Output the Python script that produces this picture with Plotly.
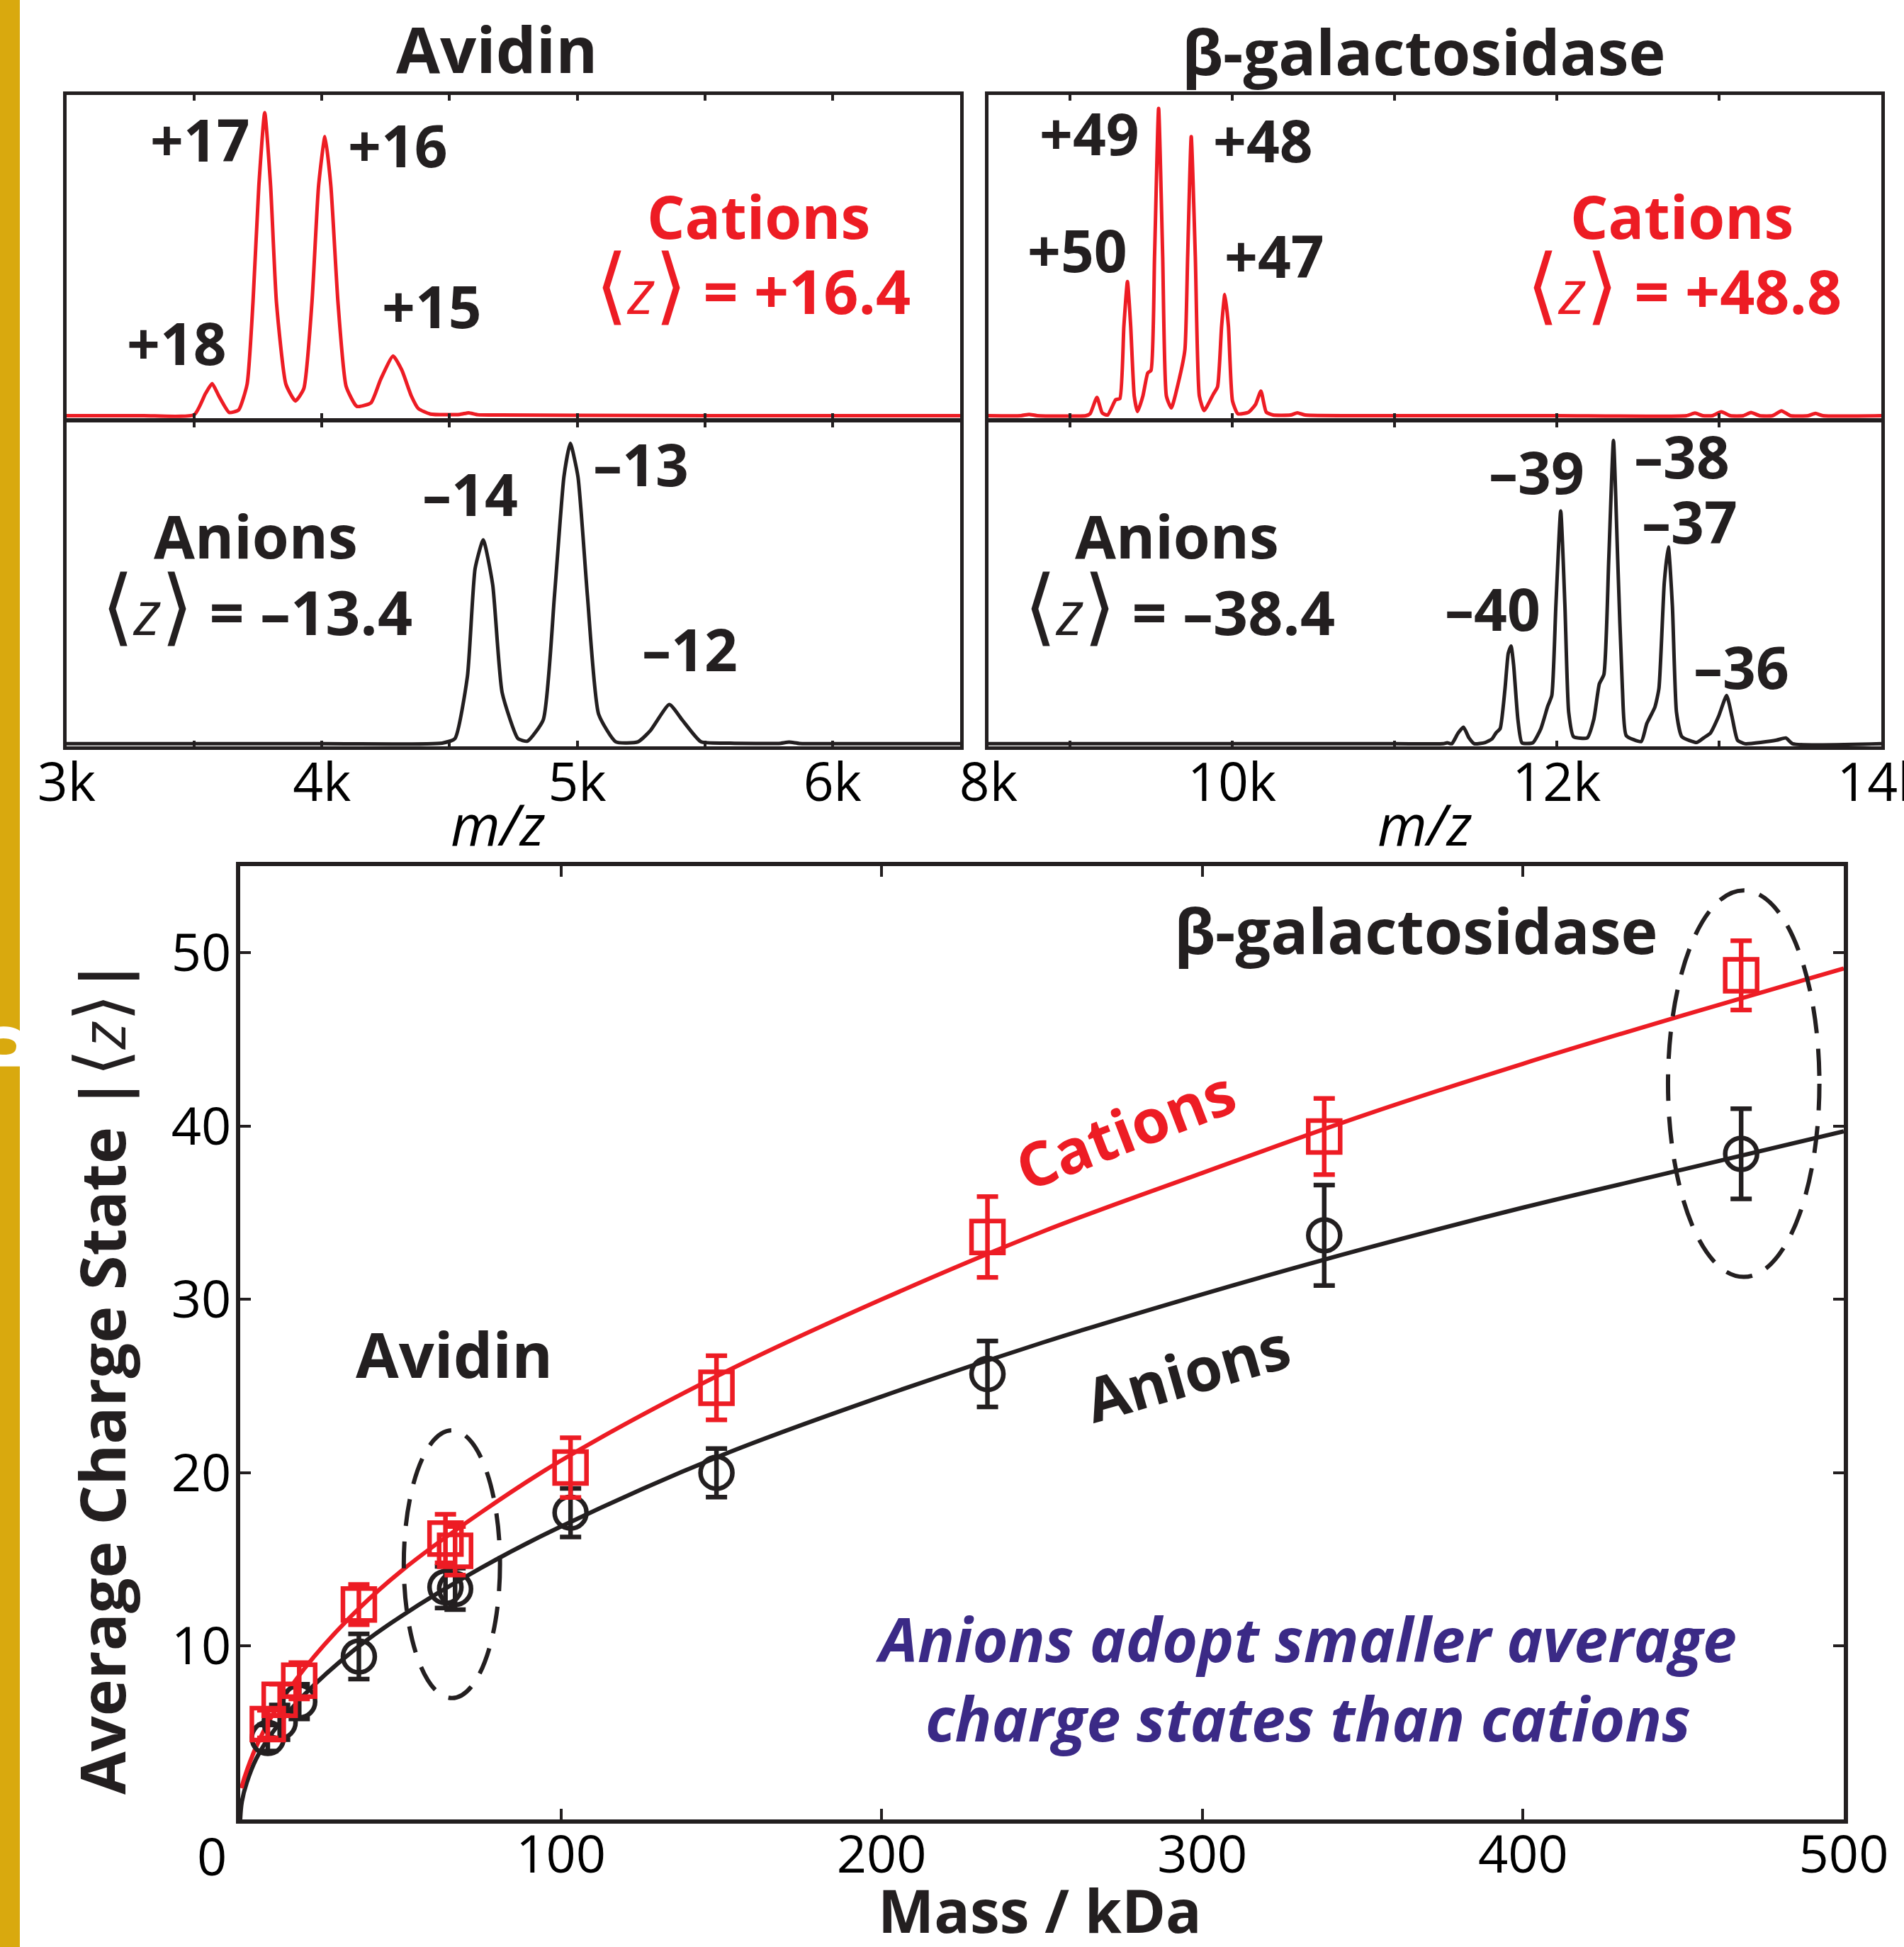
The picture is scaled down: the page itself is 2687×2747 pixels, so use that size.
import plotly.graph_objects as go

# ---------------- data ----------------
# Avidin spectra (m/z, relative intensity in % of panel height)
av_cat_mz = [3000, 3300, 3500, 3544, 3570, 3596, 3637, 3674, 3707, 3730, 3753, 3776, 3799, 3822, 3859,
             3896, 3929, 3961, 3987, 4012, 4035, 4063, 4095, 4137, 4192, 4230, 4279, 4313, 4350, 4378,
             4425, 4540, 4575, 4610, 4700, 5000, 5500, 6000, 6500]
av_cat_int = [0, 0, 0.3, 6.9, 10.0, 6.2, 1.0, 1.8, 9.8, 35.3, 71.7, 94.5, 71.7, 35.3, 9.8,
              4.6, 8.4, 35.3, 71.7, 87.0, 71.7, 35.3, 9.1, 2.9, 4.0, 11.3, 18.6, 14.2, 6.2, 2.2,
              0.5, 0.4, 0.9, 0.3, 0.2, 0.1, 0, 0, 0]

av_an_mz = [3000, 4000, 4471, 4521, 4570, 4600, 4632, 4669, 4706, 4768, 4805, 4867, 4911, 4948, 4973,
            5003, 5040, 5084, 5151, 5238, 5287, 5361, 5411, 5485, 5600, 5790, 5830, 5870, 6000, 6500]
av_an_int = [0, 0, 0.2, 1.6, 20.8, 54.1, 63.0, 49.1, 15.8, 1.6, 0.8, 7.4, 45.8, 82.5, 92.8,
             82.5, 45.8, 9.1, 0.6, 0.6, 4.1, 12.1, 7.4, 0.6, 0.2, 0.1, 0.5, 0.1, 0, 0]

# beta-galactosidase spectra
bg_cat_mz = [8500, 8700, 8750, 8800, 9100, 9126, 9168, 9201, 9234, 9284, 9309, 9334, 9356, 9376,
             9398, 9418, 9451, 9481, 9501, 9523, 9548, 9573, 9596, 9626, 9677, 9710, 9727, 9749, 9774,
             9799, 9828, 9886, 9911, 9936, 9956, 9978, 10003, 10036, 10103, 10145, 10178, 10211, 10253,
             10360, 10403, 10450, 11000, 12000, 12800, 12852, 12900, 12960, 13014, 13070, 13150, 13197,
             13250, 13330, 13385, 13440, 13550, 13594, 13640, 14000]
bg_cat_int = [0, 0, 0.4, 0, 0, 0.6, 5.7, 0.8, 0.2, 5.0, 5.3, 27.9, 41.8, 27.9,
              6.1, 1.3, 6.1, 13.3, 14.1, 49.8, 95.8, 49.8, 6.1, 2.4, 11.9, 20.6, 49.8, 87.0, 49.8,
              6.1, 1.6, 6.8, 9.0, 27.9, 37.8, 27.9, 4.6, 0.6, 1.1, 3.5, 7.7, 1.1, 0.2,
              0.2, 0.9, 0.2, 0, 0, 0, 0.8, 0, 0, 1.2, 0, 0, 1.0,
              0, 0, 1.5, 0, 0, 0.7, 0, 0]

bg_an_mz = [8500, 11000, 11301, 11326, 11354, 11393, 11426, 11460, 11493, 11560, 11602, 11627, 11652,
            11682, 11702, 11719, 11735, 11761, 11786, 11853, 11903, 11945, 11970, 11995, 12025, 12051,
            12074, 12104, 12188, 12229, 12263, 12291, 12321, 12350, 12376, 12405, 12429, 12521, 12555,
            12605, 12630, 12663, 12688, 12713, 12738, 12771, 12863, 12905, 12947, 12997, 13047, 13080,
            13114, 13160, 13354, 13412, 13454, 14000]
bg_an_int = [0, 0, 0, 0.3, 0, 3.3, 5.1, 1.8, 0, 0.4, 1.5, 3.4, 4.7,
             17.1, 28.0, 30.2, 24.3, 7.6, 0.3, 0.3, 4.7, 11.6, 14.9, 42.5, 71.9, 42.5,
             9.8, 2.2, 1.8, 7.6, 18.5, 21.4, 57.0, 93.7, 57.0, 17.1, 2.5, 0.7, 6.2,
             11.3, 17.1, 49.8, 60.8, 42.5, 9.8, 2.2, 0.4, 1.8, 3.3, 8.4, 14.9, 8.4,
             1.1, 0, 1.1, 1.8, 0, 0]

# Average charge state vs mass
mass_kda = [8.6, 12.3, 18.4, 37, 64, 67, 103, 148.5, 233, 338, 468]
cation_z = [5.5, 6.9, 8.0, 12.4, 16.2, 15.5, 20.3, 24.9, 33.6, 39.4, 48.7]
cation_err = [0.8, 0.9, 1.05, 1.16, 1.4, 1.4, 1.72, 1.85, 2.33, 2.2, 2.0]
anion_z = [4.7, 5.6, 6.8, 9.4, 13.4, 13.3, 17.7, 20.0, 25.7, 33.7, 38.4]
anion_err = [0.75, 1.0, 1.0, 1.3, 1.2, 1.2, 1.4, 1.4, 1.9, 2.9, 2.6]

# fitted curves
fit_cat_mass = [0.4, 1.3, 5, 10, 20, 35, 50, 75, 100, 150, 200, 250, 300, 350, 400, 450, 500]
fit_cat_z = [1.8, 2.4, 4.2, 6.0, 8.7, 11.8, 14.3, 17.7, 20.7, 25.7, 30.0, 33.9, 37.3, 40.6, 43.6, 46.4, 49.1]
fit_an_mass = [0, 0.5, 2, 5, 10, 20, 35, 50, 75, 100, 150, 200, 250, 300, 350, 400, 450, 500]
fit_an_z = [0, 1.0, 2.1, 3.5, 5.0, 7.2, 9.7, 11.7, 14.5, 16.9, 21.0, 24.4, 27.5, 30.3, 32.9, 35.3, 37.5, 39.7]

av_ticks = [3000, 3500, 4000, 4500, 5000, 5500, 6000, 6500]
av_ticktext = ["3k", "", "4k", "", "5k", "", "6k", ""]
bg_ticks = [8500, 9000, 10000, 11000, 12000, 13000, 14000]
bg_ticktext = ["8k", "", "10k", "", "12k", "", "14k"]
mass_ticks = [100, 200, 300, 400, 500]
z_ticks = [10, 20, 30, 40, 50]

# ---------------- styling ----------------
W, H = 2687, 2747
RED = "#ed1c24"
BLK = "#231f20"
PURPLE = "#3b2a86"
GOLD = "#d9a90e"
FONT = "Open Sans"


def px(x):
    return x / W


def py(y):
    return 1 - y / H


fig = go.Figure()
spec_line = dict(width=5, shape="spline", smoothing=0.5)
fig.add_trace(go.Scatter(x=av_cat_mz, y=av_cat_int, mode="lines", line=dict(color=RED, **spec_line),
                         xaxis="x", yaxis="y", showlegend=False))
fig.add_trace(go.Scatter(x=av_an_mz, y=av_an_int, mode="lines", line=dict(color=BLK, **spec_line),
                         xaxis="x2", yaxis="y2", showlegend=False))
fig.add_trace(go.Scatter(x=bg_cat_mz, y=bg_cat_int, mode="lines", line=dict(color=RED, **spec_line),
                         xaxis="x3", yaxis="y3", showlegend=False))
fig.add_trace(go.Scatter(x=bg_an_mz, y=bg_an_int, mode="lines", line=dict(color=BLK, **spec_line),
                         xaxis="x4", yaxis="y4", showlegend=False))

fig.add_trace(go.Scatter(x=fit_an_mass, y=fit_an_z, mode="lines", line=dict(color=BLK, width=6, shape="spline"),
                         xaxis="x5", yaxis="y5", showlegend=False))
fig.add_trace(go.Scatter(x=fit_cat_mass, y=fit_cat_z, mode="lines", line=dict(color=RED, width=6, shape="spline"),
                         xaxis="x5", yaxis="y5", showlegend=False))
fig.add_trace(go.Scatter(x=mass_kda, y=anion_z, mode="markers",
                         marker=dict(symbol="circle-open", size=45, color=BLK, line=dict(width=6.5, color=BLK)),
                         error_y=dict(type="data", array=anion_err, visible=True, color=BLK, thickness=6.5, width=15),
                         xaxis="x5", yaxis="y5", showlegend=False))
fig.add_trace(go.Scatter(x=mass_kda, y=cation_z, mode="markers",
                         marker=dict(symbol="square-open", size=45, color=RED, line=dict(width=6.5, color=RED)),
                         error_y=dict(type="data", array=cation_err, visible=True, color=RED, thickness=6.5, width=15),
                         xaxis="x5", yaxis="y5", showlegend=False))

spec_x = dict(showline=True, linewidth=5, linecolor=BLK, mirror="ticks", ticks="inside", ticklen=8,
              tickwidth=3.5, tickcolor=BLK, showgrid=False, zeroline=False, automargin=False,
              ticklabelstandoff=-18, ticklabeloverflow="allow",
              tickfont=dict(family=FONT, size=75, color="black"))
spec_y = dict(showline=True, linewidth=5, linecolor=BLK, mirror=True, ticks="", showticklabels=False,
              showgrid=False, zeroline=False, automargin=False)
main_ax = dict(showline=True, linewidth=5.5, linecolor=BLK, mirror="ticks", ticks="inside", ticklen=15,
               tickwidth=3.5, tickcolor=BLK, showgrid=False, zeroline=False, automargin=False,
               ticklabeloverflow="allow", tickfont=dict(family=FONT, size=74, color="black"))

layout = dict(
    template="none",
    width=W, height=H, margin=dict(l=0, r=0, t=0, b=0, autoexpand=False),
    paper_bgcolor="white", plot_bgcolor="rgba(0,0,0,0)",
    font=dict(family=FONT, color=BLK),
    xaxis=dict(domain=[px(94), px(1355)], range=[3000, 6500], anchor="y", tickvals=av_ticks,
               showticklabels=False, **spec_x),
    yaxis=dict(domain=[py(591), py(134)], range=[-1, 100], anchor="x", **spec_y),
    xaxis2=dict(domain=[px(94), px(1355)], range=[3000, 6500], anchor="y2", tickvals=av_ticks,
                ticktext=av_ticktext, **spec_x),
    yaxis2=dict(domain=[py(1053), py(595)], range=[-0.8, 99.5], anchor="x2", **spec_y),
    xaxis3=dict(domain=[px(1395), px(2655)], range=[8500, 14000], anchor="y3", tickvals=bg_ticks,
                showticklabels=False, **spec_x),
    yaxis3=dict(domain=[py(591), py(134)], range=[-1, 100], anchor="x3", **spec_y),
    xaxis4=dict(domain=[px(1395), px(2655)], range=[8500, 14000], anchor="y4", tickvals=bg_ticks,
                ticktext=bg_ticktext, **spec_x),
    yaxis4=dict(domain=[py(1053), py(595)], range=[-0.8, 99.5], anchor="x4", **spec_y),
    xaxis5=dict(domain=[px(339), px(2602)], range=[0, 500], anchor="y5", tickvals=mass_ticks,
                ticklabelstandoff=-20, **main_ax),
    yaxis5=dict(domain=[py(2567), py(1222)], range=[0, 55], anchor="x5", tickvals=z_ticks,
                ticklabelstandoff=-8, **main_ax),
)
fig.update_layout(**layout)

shapes = [
    dict(type="rect", xref="paper", yref="paper", x0=0, x1=px(28), y0=0, y1=1,
         fillcolor=GOLD, line=dict(width=0), layer="below"),
    dict(type="circle", xref="x5", yref="y5", x0=51, x1=81, y0=7.0, y1=22.45,
         line=dict(color=BLK, width=6, dash="38px,22px")),
    dict(type="circle", xref="x5", yref="y5", x0=445.2, x1=492.4, y0=31.3, y1=53.6,
         line=dict(color=BLK, width=6, dash="38px,22px")),
]
fig.update_layout(shapes=shapes)

ann = []


def add(text, x, y, size, color=BLK, angle=0, xanchor="center"):
    ann.append(dict(text=text, x=px(x), y=py(y), xref="paper", yref="paper", showarrow=False,
                    xanchor=xanchor, yanchor="middle", textangle=angle,
                    font=dict(family=FONT, size=size, color=color)))


def zval(value):
    return ("<span style='font-size:118px'>⟨</span><i>z</i><span style='font-size:118px'>⟩</span>"
            " <b>= " + value + "</b>")


# titles
add("<b>Avidin</b>", 701, 68, 90)
add("<b>β-galactosidase</b>", 2009, 72, 88)
# peak labels
for t, x, y in [("+17", 282, 196), ("+16", 561, 204), ("+18", 249, 483), ("+15", 609, 431),
                ("–14", 663, 696), ("–13", 904, 654), ("–12", 973, 915),
                ("+49", 1537, 187), ("+48", 1783, 197), ("+50", 1520, 352), ("+47", 1798, 360),
                ("–39", 2168, 665), ("–38", 2373, 643), ("–37", 2384, 735), ("–40", 2106, 858),
                ("–36", 2457, 940)]:
    add("<b>" + t + "</b>", x, y, 82)
add("<b>Cations</b>", 1070, 304, 84, RED)
add("<b>Cations</b>", 2373, 304, 84, RED)
add(zval("+16.4"), 1062, 398, 86, RED)
add(zval("+48.8"), 2376, 398, 86, RED)
add("<b>Anions</b>", 361, 755, 84)
add("<b>Anions</b>", 1661, 755, 84)
add(zval("–13.4"), 362, 850, 86)
add(zval("–38.4"), 1664, 850, 86)
add("<i>m/z</i>", 703, 1161, 80, "black")
add("<i>m/z</i>", 2011, 1161, 80, "black")
# main plot texts
add("<b>Avidin</b>", 641, 1910, 88)
add("<b>β-galactosidase</b>", 1998, 1312, 88)
add("<b>Cations</b>", 1587, 1592, 86, RED, angle=-21)
add("<b>Anions</b>", 1675, 1935, 86, BLK, angle=-16)
add("<b><i>Anions adopt smaller average<br>charge states than cations</i></b>", 1843, 2367, 86, PURPLE)
add("<b>Mass / kDa</b>", 1467, 2694, 84)
add("<b>Average Charge State |</b><span style='font-size:100px'>⟨</span><i>z</i>"
    "<span style='font-size:100px'>⟩</span><b>|</b>", 138, 1943, 88, BLK, angle=-90)
add("0", 299, 2617, 74, "black")
add("<b>b</b>", -8, 1478, 110, "white", angle=-90)
fig.update_layout(annotations=ann)

fig.write_html("out.html")
